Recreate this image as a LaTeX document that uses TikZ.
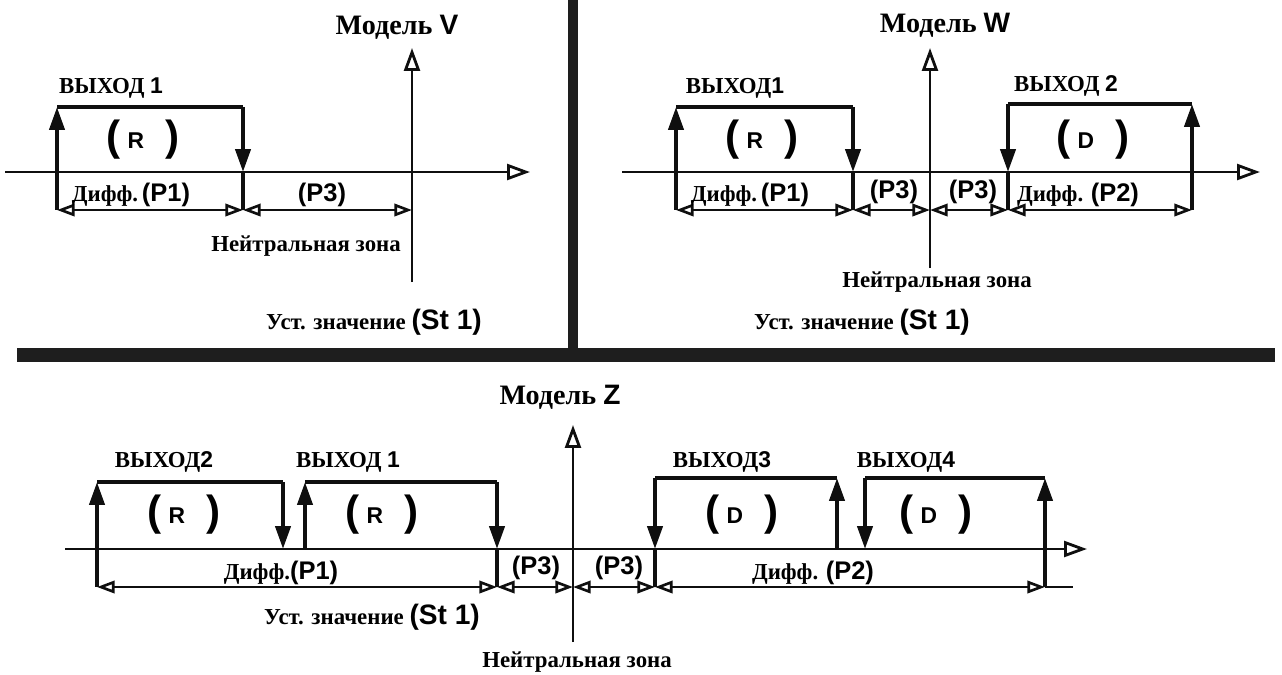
\documentclass[tikz,border=0pt]{standalone}
\usepackage{fontspec}
\setmainfont{Liberation Serif}
\newfontfamily\latsans{Liberation Sans}
\usetikzlibrary{arrows.meta}
\definecolor{cInk}{RGB}{15,15,15}
\definecolor{cBar}{RGB}{30,30,30}
\newcommand{\lat}[1]{{\latsans\bfseries #1}}
\newcommand{\sw}[1]{{\latsans\bfseries\fontsize{24}{24}\selectfont(\,\raisebox{1.5pt}{\fontsize{13}{13}\selectfont #1}\enspace)}}
\tikzset{
	axis/.style     ={line width=1.6pt, draw=cInk, -{Triangle[open, length=13pt, width=9pt]}},
	dimline/.style  ={line width=1.5pt, draw=cInk, {Triangle[open, length=10pt, width=7pt]}-{Triangle[open, length=10pt, width=7pt]}},
	relayline/.style={line width=2.3pt, draw=cInk},
	relayarr/.style ={relayline, -{Triangle[length=13pt, width=8.5pt]}},
	divider/.style  ={draw=cBar},
	title/.style    ={font=\fontsize{16}{18}\selectfont\bfseries, inner sep=0pt},
	lbl/.style      ={font=\fontsize{13}{15}\selectfont\bfseries, inner sep=0pt},
}
\begin{document}
\begin{tikzpicture}[x=0.02cm, y=-0.02cm]
	\useasboundingbox (0,0) rectangle (1282,674);
	% panel dividers
	\draw[divider, line width=5.8pt] (573,0) -- (573,352);
	\draw[divider, line width=7.5pt] (17,355) -- (1275,355);
	% axes
	\draw[axis] (5,172) -- (530,172);
	\draw[axis] (412,282) -- (412,48);
	\draw[axis] (622,172) -- (1260,172);
	\draw[axis] (930,268) -- (930,48);
	\draw[axis] (65,549) -- (1087,549);
	\draw[axis] (573,642) -- (573,425);
	% rising outputs (R): up at left, down at right
	\foreach \xa/\xb/\yt/\ya in {57/243/107/172, 676/853/107/172, 97/283/482/549, 305/497/482/549} {
		\draw[relayarr] (\xa,\ya) -- (\xa,\yt);
		\draw[relayline] (\xa,\yt) -- (\xb,\yt);
		\draw[relayarr] (\xb,\yt) -- (\xb,\ya);
	}
	% falling outputs (D): down at left, up at right
	\foreach \xa/\xb/\yt/\ya in {1008/1192/104/172, 655/837/478/549, 865/1045/478/549} {
		\draw[relayarr] (\xa,\yt) -- (\xa,\ya);
		\draw[relayline] (\xa,\yt) -- (\xb,\yt);
		\draw[relayarr] (\xb,\ya) -- (\xb,\yt);
	}
	% extension lines down to the dimension lines
	\foreach \x/\ya/\yb in {57/172/210, 243/172/210, 676/172/210, 853/172/210, 1008/172/210, 1192/172/210, 97/549/587, 497/549/587, 655/549/587, 1045/549/587}
		\draw[relayline] (\x,\ya) -- (\x,\yb);
	% dimension lines
	\foreach \xa/\xb/\y in {57/243/210, 243/412/210, 676/853/210, 853/930/210, 930/1008/210, 1008/1192/210, 97/497/587, 497/573/587, 573/655/587, 655/1045/587}
		\draw[dimline] (\xa,\y) -- (\xb,\y);
	\draw[line width=1.5pt, draw=cInk] (1045,587) -- (1073,587);
	% model V
	\node[title] (ttlV) at (397,27) {Модель \lat{V}};
	\node[lbl] (outV1) at (111,88) {ВЫХОД \lat{1}};
	\node[inner sep=0pt] (swV1) at (143,140) {\sw{R}};
	\node[lbl] (difV1) at (131,195) {Дифф.\,\lat{\fontsize{14.5}{16}\selectfont(P1)}};
	\node[lbl] (nzV3) at (322,195) {\lat{\fontsize{14.5}{16}\selectfont(P3)}};
	\node[lbl] (nzV) at (306,246) {Нейтральная зона};
	\node[lbl] (stV) at (374,322) {Уст. значение \lat{\fontsize{16}{18}\selectfont(St 1)}};
	% model W
	\node[title] (ttlW) at (945,25) {Модель \lat{W}};
	\node[lbl] (outW1) at (735,88) {ВЫХОД\lat{1}};
	\node[lbl] (outW2) at (1066,86) {ВЫХОД \lat{2}};
	\node[inner sep=0pt] (swW1) at (762,140) {\sw{R}};
	\node[inner sep=0pt] (swW2) at (1093,140) {\sw{D}};
	\node[lbl] (difW1) at (750,195) {Дифф.\,\lat{\fontsize{14.5}{16}\selectfont(P1)}};
	\node[lbl] (nzW3a) at (894,192) {\lat{\fontsize{14.5}{16}\selectfont(P3)}};
	\node[lbl] (nzW3b) at (973,192) {\lat{\fontsize{14.5}{16}\selectfont(P3)}};
	\node[lbl] (difW2) at (1078,195) {Дифф. \lat{\fontsize{14.5}{16}\selectfont(P2)}};
	\node[lbl] (nzW) at (937,282) {Нейтральная зона};
	\node[lbl] (stW) at (862,322) {Уст. значение \lat{\fontsize{16}{18}\selectfont(St 1)}};
	% model Z
	\node[title] (ttlZ) at (560,397) {Модель \lat{Z}};
	\node[lbl] (outZ2) at (164,462) {ВЫХОД\lat{2}};
	\node[lbl] (outZ1) at (348,462) {ВЫХОД \lat{1}};
	\node[lbl] (outZ3) at (722,462) {ВЫХОД\lat{3}};
	\node[lbl] (outZ4) at (906,462) {ВЫХОД\lat{4}};
	\node[inner sep=0pt] (swZ2) at (184,515) {\sw{R}};
	\node[inner sep=0pt] (swZ1) at (382,515) {\sw{R}};
	\node[inner sep=0pt] (swZ3) at (742,515) {\sw{D}};
	\node[inner sep=0pt] (swZ4) at (936,515) {\sw{D}};
	\node[lbl] (difZ1) at (281,573) {Дифф.\lat{\fontsize{14.5}{16}\selectfont(P1)}};
	\node[lbl] (nzZ3a) at (536,568) {\lat{\fontsize{14.5}{16}\selectfont(P3)}};
	\node[lbl] (nzZ3b) at (619,568) {\lat{\fontsize{14.5}{16}\selectfont(P3)}};
	\node[lbl] (difZ2) at (813,573) {Дифф. \lat{\fontsize{14.5}{16}\selectfont(P2)}};
	\node[lbl] (stZ) at (372,617) {Уст. значение \lat{\fontsize{16}{18}\selectfont(St 1)}};
	\node[lbl] (nzZ) at (577,662) {Нейтральная зона};
\end{tikzpicture}
\end{document}
